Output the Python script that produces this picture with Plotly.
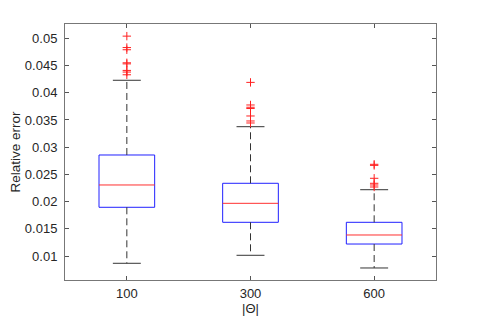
import plotly.graph_objects as go

categories = ["100", "300", "600"]
q1 = [0.01895, 0.01619, 0.01220]
median = [0.02305, 0.01968, 0.01386]
q3 = [0.02856, 0.02336, 0.01619]
lower_whisker = [0.00866, 0.01013, 0.00780]
upper_whisker = [0.04229, 0.03376, 0.02218]
outliers = [
    [0.0504, 0.0483, 0.0479, 0.0455, 0.0453, 0.0441, 0.0438, 0.0433],
    [0.0419, 0.03775, 0.03733, 0.0371, 0.03573, 0.03481, 0.03444],
    [0.02685, 0.02665, 0.02428, 0.02336, 0.02305, 0.02268],
]
y_ticks = [0.01, 0.015, 0.02, 0.025, 0.03, 0.035, 0.04, 0.045, 0.05]
y_tick_labels = ["0.01", "0.015", "0.02", "0.025", "0.03", "0.035", "0.04", "0.045", "0.05"]

BOX_HALF = 0.225
CAP_HALF = 0.113
fig = go.Figure()

for i, cat in enumerate(categories):
    x0 = i + 1
    fig.add_trace(go.Scatter(
        x=[x0 - BOX_HALF, x0 + BOX_HALF, x0 + BOX_HALF, x0 - BOX_HALF, x0 - BOX_HALF],
        y=[q1[i], q1[i], q3[i], q3[i], q1[i]],
        mode="lines", line=dict(color="#2020ff", width=1), hoverinfo="skip"))
    fig.add_trace(go.Scatter(
        x=[x0 - BOX_HALF, x0 + BOX_HALF], y=[median[i], median[i]],
        mode="lines", line=dict(color="#ff3030", width=1), hoverinfo="skip"))
    fig.add_trace(go.Scatter(
        x=[x0, x0], y=[q3[i], upper_whisker[i]],
        mode="lines", line=dict(color="#333333", width=1, dash="7px,4px"), hoverinfo="skip"))
    fig.add_trace(go.Scatter(
        x=[x0, x0], y=[q1[i], lower_whisker[i]],
        mode="lines", line=dict(color="#333333", width=1, dash="7px,4px"), hoverinfo="skip"))
    for w in (upper_whisker[i], lower_whisker[i]):
        fig.add_trace(go.Scatter(
            x=[x0 - CAP_HALF, x0 + CAP_HALF], y=[w, w],
            mode="lines", line=dict(color="#333333", width=1), hoverinfo="skip"))
    fig.add_trace(go.Scatter(
        x=[x0] * len(outliers[i]), y=outliers[i], mode="markers",
        marker=dict(symbol="cross-thin", size=6, line=dict(color="#ff2020", width=1)),
        hoverinfo="skip"))

fig.update_layout(
    width=474, height=308,
    margin=dict(l=57, r=46, t=16, b=36),
    paper_bgcolor="white", plot_bgcolor="white",
    showlegend=False,
    font=dict(family="Liberation Sans, Arial, sans-serif", size=13, color="#262626"),
    xaxis=dict(
        range=[0.5, 3.5], tickvals=[1, 2, 3], ticktext=categories,
        ticks="inside", ticklen=4, tickcolor="#555555", ticklabelstandoff=1,
        showline=True, linecolor="#777777", linewidth=1, mirror="ticks",
        showgrid=False, zeroline=False, automargin=False,
        title=dict(text="|Θ|", standoff=9, font=dict(size=13)),
    ),
    yaxis=dict(
        range=[0.00559, 0.05263],
        tickvals=y_ticks, ticktext=y_tick_labels,
        ticks="inside", ticklen=4, tickcolor="#555555", ticklabelstandoff=4,
        showline=True, linecolor="#777777", linewidth=1, mirror="ticks",
        showgrid=False, zeroline=False, automargin=False,
        title=dict(text="Relative error", standoff=18, font=dict(size=13.5)),
    ),
)

fig.write_html("out.html")
